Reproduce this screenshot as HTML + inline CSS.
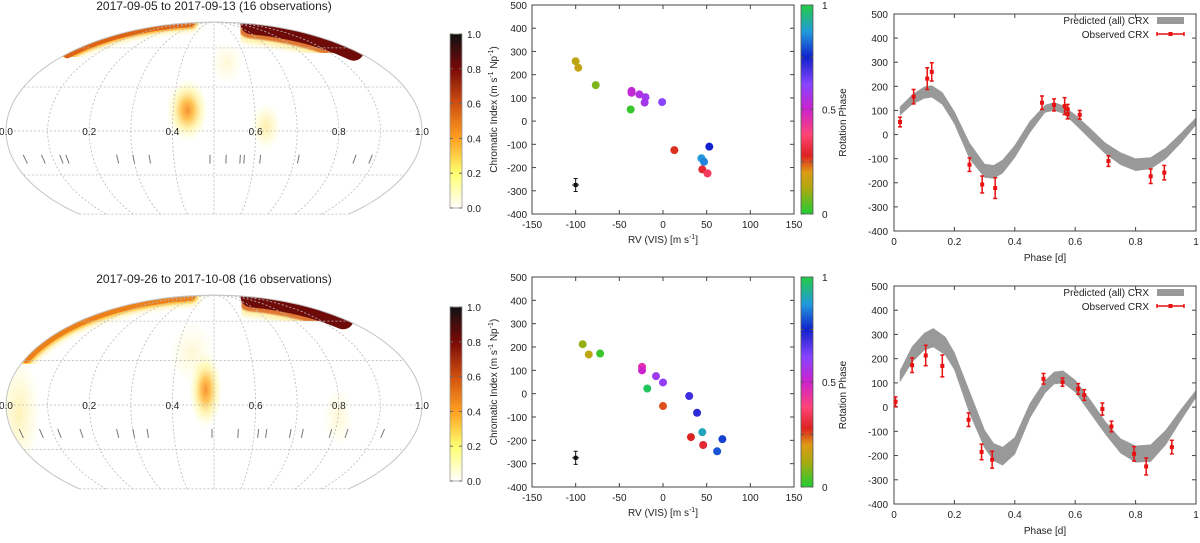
<!DOCTYPE html>
<html><head><meta charset="utf-8"><style>
html,body{margin:0;padding:0;background:#fff;}
svg{display:block;font-family:"Liberation Sans",sans-serif;}
</style></head><body>
<svg id="fig" width="1200" height="543" viewBox="0 0 1200 543" xmlns="http://www.w3.org/2000/svg">
<defs>
<linearGradient id="heatcb" x1="0" y1="1" x2="0" y2="0">
<stop offset="0" stop-color="#ffffff"/><stop offset="0.2" stop-color="#ffff70"/><stop offset="0.4" stop-color="#ffa020"/><stop offset="0.6" stop-color="#d05010"/><stop offset="0.8" stop-color="#780a08"/><stop offset="1" stop-color="#111"/>
</linearGradient>
<linearGradient id="phasecb" x1="0" y1="1" x2="0" y2="0">
<stop offset="0" stop-color="#22cc33"/><stop offset="0.12" stop-color="#aaaa10"/><stop offset="0.2" stop-color="#dd9a15"/><stop offset="0.28" stop-color="#dd2222"/><stop offset="0.38" stop-color="#ff4477"/><stop offset="0.5" stop-color="#cc22cc"/><stop offset="0.62" stop-color="#8844ff"/><stop offset="0.75" stop-color="#1122cc"/><stop offset="0.87" stop-color="#2299dd"/><stop offset="1" stop-color="#22cc44"/>
</linearGradient>
<radialGradient id="blobY"><stop offset="0" stop-color="#ffe060"/><stop offset="0.5" stop-color="#fff090" stop-opacity="0.7"/><stop offset="1" stop-color="#ffffa0" stop-opacity="0"/></radialGradient>
<radialGradient id="blobO"><stop offset="0" stop-color="#f59030"/><stop offset="0.3" stop-color="#ffb838" stop-opacity="0.85"/><stop offset="0.65" stop-color="#fff080" stop-opacity="0.5"/><stop offset="1" stop-color="#ffffa0" stop-opacity="0"/></radialGradient>
<filter id="blur2"><feGaussianBlur stdDeviation="2.5"/></filter>
<filter id="blur1"><feGaussianBlur stdDeviation="0.8"/></filter>
</defs>
</svg>
<script>
// ---------- data ----------
const mapTitles = ["2017-09-05 to 2017-09-13 (16 observations)", "2017-09-26 to 2017-10-08 (16 observations)"];
const obsPhasesTop = [0.03,0.075,0.12,0.135,0.26,0.3,0.34,0.49,0.53,0.565,0.575,0.615,0.71,0.85,0.89];
const obsPhasesBot = [0.02,0.07,0.115,0.17,0.26,0.3,0.335,0.495,0.56,0.61,0.63,0.69,0.72,0.79,0.83,0.92];
// spots: lon, lat, rx(frac lon), ry(deg lat), intensity
const spotsTop = [[0.435,14,0.05,15,0.6],[0.625,3,0.035,11,0.3],[0.54,48,0.05,10,0.15]];
const spotsBot = [[0.48,10,0.04,18,0.55],[0.03,-5,0.05,28,0.25],[0.8,-8,0.035,14,0.15],[0.44,35,0.06,15,0.15]];
// limb bands: edge (0 left, 1 right), latFrom, latTo, width(px), intensity
const bandsTop = [[0,55,88,6,0.55],[1,58,86,14,0.82]];
const bandsBot = [[0,32,88,7,0.48],[1,62,86,14,0.82]];

const rvTop = [-100,-97,-77,-36,-36,-27,-20,-21,-1,-37,13,53,44,47,45,51];
const ciTop = [258,230,155,130,122,115,103,80,82,50,-125,-110,-160,-175,-208,-225];
const phTop = [0.15,0.16,0.08,0.52,0.52,0.55,0.58,0.57,0.62,0.02,0.27,0.75,0.87,0.85,0.3,0.35];
const rvBot = [-92,-85,-72,-24,-24,-8,0,-18,30,39,0,45,32,46,68,62];
const ciBot = [212,168,172,115,100,75,48,22,-10,-82,-53,-165,-186,-220,-195,-247];
const phBot = [0.1,0.15,0.02,0.45,0.5,0.58,0.6,0.98,0.7,0.72,0.25,0.9,0.28,0.3,0.78,0.8];

const crxPhTop = [0.02,0.065,0.11,0.125,0.25,0.292,0.335,0.49,0.53,0.565,0.575,0.575,0.615,0.71,0.85,0.895];
const crxTop   = [52,157,232,260,-125,-207,-222,132,123,118,105,85,82,-110,-173,-158];
const crxErrTop= [20,30,45,38,28,35,43,28,25,35,20,20,18,22,30,30];
const bandXTop = [0.02,0.06,0.1,0.125,0.16,0.2,0.25,0.3,0.33,0.36,0.4,0.45,0.5,0.53,0.56,0.6,0.65,0.7,0.75,0.8,0.85,0.9,0.95,1.0];
const bandHiTop= [115,165,198,203,175,95,-35,-122,-128,-105,-45,55,122,133,120,82,25,-35,-75,-100,-95,-55,5,70];
const bandLoTop= [80,125,150,155,125,45,-100,-178,-182,-160,-95,8,92,100,88,42,-20,-80,-125,-150,-142,-100,-35,40];
const crxPhBot = [0.005,0.06,0.105,0.16,0.247,0.29,0.325,0.495,0.558,0.61,0.63,0.69,0.72,0.795,0.835,0.92];
const crxBot   = [22,173,213,170,-52,-185,-217,117,103,75,50,-8,-80,-193,-245,-165];
const crxErrBot= [20,30,42,45,28,32,35,22,17,22,22,25,22,30,35,28];
const bandXBot = [0.02,0.06,0.1,0.13,0.17,0.2,0.25,0.3,0.33,0.36,0.4,0.45,0.5,0.53,0.56,0.6,0.65,0.7,0.75,0.8,0.85,0.9,0.95,1.0];
const bandHiBot= [150,250,305,325,290,225,65,-95,-150,-165,-125,15,110,145,150,112,30,-60,-130,-160,-155,-95,-10,70];
const bandLoBot= [105,185,235,248,215,155,-25,-168,-222,-240,-195,-45,58,95,100,62,-25,-112,-190,-228,-225,-155,-55,40];

// ---------- helpers ----------
const svg = document.getElementById('fig');
const NS = 'http://www.w3.org/2000/svg';
function mk(tag, attrs, parent){const e=document.createElementNS(NS,tag);for(const k in attrs)e.setAttribute(k,attrs[k]);(parent||svg).appendChild(e);return e;}
function txt(x,y,s,size,anchor,parent,fill){const t=mk('text',{x:x,y:y,'font-size':size,'text-anchor':anchor||'middle',fill:fill||'#222'},parent);t.textContent=s;return t;}
const pstops=[[0,[34,204,51]],[0.12,[170,170,16]],[0.2,[221,154,21]],[0.28,[221,34,34]],[0.38,[255,68,119]],[0.5,[204,34,204]],[0.62,[136,68,255]],[0.75,[17,34,204]],[0.87,[34,153,221]],[1,[34,204,68]]];
const hstops=[[0,[255,255,255]],[0.2,[255,255,112]],[0.4,[255,160,32]],[0.6,[208,80,16]],[0.8,[120,10,8]],[1,[17,17,17]]];
function cmap(st,v){v=Math.max(0,Math.min(1,v));for(let i=1;i<st.length;i++){if(v<=st[i][0]){const a=st[i-1],b=st[i];const f=(v-a[0])/(b[0]-a[0]);const c=a[1].map((x,j)=>Math.round(x+(b[1][j]-x)*f));return `rgb(${c[0]},${c[1]},${c[2]})`;}}return 'rgb(34,204,68)';}

// ---------- Mollweide maps ----------
function drawMap(idx, M, title, spots, bands, obs){
  const g = mk('g',{});
  
  
  function theta(latDeg){const p=latDeg*Math.PI/180;if(Math.abs(latDeg)>=90)return Math.sign(latDeg)*Math.PI/2;let t=p;for(let i=0;i<30;i++){const f=2*t+Math.sin(2*t)-Math.PI*Math.sin(p);t-=f/(2+2*Math.cos(2*t));}return t;}
  function P(lon,lat){const t=theta(lat);return [M.cx+M.a*(lon-0.5)*2*Math.cos(t), M.cy-M.b*Math.sin(t)];}
  let d='';
  for(let lat=-60;lat<=90;lat+=2){const p=P(0,lat);d+=(d?'L':'M')+p[0].toFixed(1)+','+p[1].toFixed(1);}
  for(let lat=90;lat>=-60;lat-=2){const p=P(1,lat);d+='L'+p[0].toFixed(1)+','+p[1].toFixed(1);}
  d+='Z';
  const cid='clip'+idx;
  const cp=mk('clipPath',{id:cid},svg.querySelector('defs'));mk('path',{d:d},cp);
  const heat=mk('g',{'clip-path':`url(#${cid})`},g);
  
  
  spots.forEach(s=>{
    const c=P(s[0],s[1]);const rx=s[2]*2*M.a*Math.cos(theta(s[1]));const ry=M.b*Math.sin(s[3]*Math.PI/180)*1.1;
    const e=mk('ellipse',{cx:c[0],cy:c[1],rx:rx,ry:ry,fill:s[4]>0.35?'url(#blobO)':'url(#blobY)',opacity:Math.min(1,s[4]*1.8)},heat);
    
    
  });
  bands.forEach(b=>{
    let pd='';for(let l=b[1];l<=b[2]+1e-9;l+=1){const p=P(b[0],l);pd+=(pd?'L':'M')+p[0].toFixed(1)+','+p[1].toFixed(1);}
    mk('path',{d:pd,stroke:'#ffe870','stroke-width':b[3]*2.8,fill:'none',opacity:0.6,filter:'url(#blur2)','stroke-linecap':'round'},heat);
    mk('path',{d:pd,stroke:cmap(hstops,b[4]*0.7),'stroke-width':b[3]*2.1,fill:'none',opacity:0.8,filter:'url(#blur1)','stroke-linecap':'round'},heat);
    const e=mk('path',{d:pd,stroke:cmap(hstops,b[4]),'stroke-width':b[3]*1.5,fill:'none','stroke-linecap':'round'},heat);
    
    
  });
  const grid=mk('g',{stroke:'#bbb','stroke-width':0.8,'stroke-dasharray':'2,2',fill:'none'},g);
  
  
  for(let k=1;k<10;k++){let pd='';for(let lat=-60;lat<=90;lat+=3){const p=P(k/10,lat);pd+=(pd?'L':'M')+p[0].toFixed(1)+','+p[1].toFixed(1);}mk('path',{d:pd},grid);}
  [-60,-30,0,30,60].forEach(lat=>{const a=P(0,lat),b=P(1,lat);mk('path',{d:`M${a[0]},${a[1]}L${b[0]},${b[1]}`},grid);});
  const ol=mk('path',{d:d.replace('Z',''),stroke:'#c4c4c4','stroke-width':1,fill:'none'},g);
  
  
  for(let k=0;k<=5;k++){const p=P(k*0.2,0);const t=txt(p[0],p[1]+4,(k*0.2).toFixed(1),10,'middle',g);}
  obs.forEach(ph=>{const a=P(ph,-16),b=P(ph,-22);const l=mk('line',{x1:a[0],y1:a[1],x2:b[0],y2:b[1],stroke:'#777','stroke-width':1},g);});
  const tt=txt(M.cx,M.titleY,title,12,'middle',g);
  
  
  const cb=mk('g',{},g);
  
  
  mk('rect',{x:450,y:M.cbTop,width:12,height:M.cbBot-M.cbTop,fill:'url(#heatcb)',stroke:'#999','stroke-width':0.8},cb);
  for(let k=0;k<=5;k++){const y=M.cbBot-(M.cbBot-M.cbTop)*k/5;mk('line',{x1:450,x2:453,y1:y,y2:y,stroke:'#666'},cb);mk('line',{x1:459,x2:462,y1:y,y2:y,stroke:'#666'},cb);txt(467,y+4,(k*0.2).toFixed(1),10,'start',cb);}
}
drawMap(0,{cx:214,cy:131,a:208,b:109,titleY:10,cbTop:34,cbBot:208},mapTitles[0],spotsTop,bandsTop,obsPhasesTop);
drawMap(1,{cx:214,cy:405,a:208,b:110,titleY:283,cbTop:307,cbBot:481},mapTitles[1],spotsBot,bandsBot,obsPhasesBot);

// ---------- scatter panels ----------
function drawScatter(name, F, rv, ci, ph){
  const g=mk('g',{});
  
  
  const X=v=>F.x0+(v+150)/300*(F.x1-F.x0);
  const Y=v=>F.y1-(v+400)/900*(F.y1-F.y0);
  const ax=mk('g',{stroke:'#444','stroke-width':1,fill:'none'},g);
  
  
  mk('rect',{x:F.x0,y:F.y0,width:F.x1-F.x0,height:F.y1-F.y0},ax);
  for(let v=-150;v<=150;v+=50){const x=X(v);mk('line',{x1:x,x2:x,y1:F.y1,y2:F.y1-4},ax);mk('line',{x1:x,x2:x,y1:F.y0,y2:F.y0+4},ax);const t=txt(x,F.y1+14,String(v),10,'middle',g);}
  for(let v=-400;v<=500;v+=100){const y=Y(v);mk('line',{x1:F.x0,x2:F.x0+4,y1:y,y2:y},ax);mk('line',{x1:F.x1,x2:F.x1-4,y1:y,y2:y},ax);const t=txt(F.x0-5,y+4,String(v),10,'end',g);}
  const xl=mk('text',{x:(F.x0+F.x1)/2,y:F.y1+29,'font-size':10,'text-anchor':'middle',fill:'#222'},g);
  xl.innerHTML='RV (VIS) [m s<tspan dy="-4" font-size="7">-1</tspan><tspan dy="4">]</tspan>';
  
  
  const yl=mk('text',{x:0,y:0,'font-size':10,'text-anchor':'middle',fill:'#222',transform:`translate(${F.x0-35},${(F.y0+F.y1)/2}) rotate(-90)`},g);
  yl.innerHTML='Chromatic Index (m s<tspan dy="-4" font-size="7">-1</tspan><tspan dy="4"> Np</tspan><tspan dy="-4" font-size="7">-1</tspan><tspan dy="4">)</tspan>';
  
  
  const ex=X(-100),ey=Y(-275);
  const eb=mk('g',{stroke:'#111','stroke-width':1},g);
  
  
  mk('line',{x1:ex,x2:ex,y1:Y(-247),y2:Y(-303)},eb);mk('line',{x1:ex-2,x2:ex+2,y1:Y(-247),y2:Y(-247)},eb);mk('line',{x1:ex-2,x2:ex+2,y1:Y(-303),y2:Y(-303)},eb);
  mk('line',{x1:X(-104),x2:X(-96),y1:ey,y2:ey},eb);mk('rect',{x:ex-1.5,y:ey-1.5,width:3,height:3,fill:'#111'},eb);
  rv.forEach((v,i)=>{const c=mk('circle',{cx:X(v),cy:Y(ci[i]),r:4,fill:cmap(pstops,ph[i])},g);});
  const cb=mk('g',{},g);
  
  
  mk('rect',{x:801,y:F.y0,width:12,height:F.y1-F.y0,fill:'url(#phasecb)',stroke:'#555','stroke-width':0.8},cb);
  for(let k=0;k<=4;k++){const y=F.y1-(F.y1-F.y0)*k/4;mk('line',{x1:801,x2:804,y1:y,y2:y,stroke:'#555'},cb);mk('line',{x1:810,x2:813,y1:y,y2:y,stroke:'#555'},cb);}
  [['0',0],['0.5',0.5],['1',1]].forEach(a=>txt(822,F.y1-(F.y1-F.y0)*a[1]+4,a[0],10,'start',cb));
}
drawScatter('scatter-top',{x0:532,x1:794,y0:5,y1:214},rvTop,ciTop,phTop);
drawScatter('scatter-bottom',{x0:532,x1:794,y0:277,y1:487},rvBot,ciBot,phBot);

// ---------- CRX phase panels ----------
function drawCRX(name,F,px,py,pe,bx,bhi,blo){
  const g=mk('g',{});
  
  
  const X=v=>F.x0+v*(F.x1-F.x0);
  const Y=v=>F.y1-(v+400)/900*(F.y1-F.y0);
  const cp=mk('clipPath',{id:'c'+name},svg.querySelector('defs'));mk('rect',{x:F.x0,y:F.y0,width:F.x1-F.x0,height:F.y1-F.y0},cp);
  let d='';bx.forEach((x,i)=>{d+=(i?'L':'M')+X(x).toFixed(1)+','+Y(bhi[i]).toFixed(1);});
  for(let i=bx.length-1;i>=0;i--)d+='L'+X(bx[i]).toFixed(1)+','+Y(blo[i]).toFixed(1);
  const band=mk('path',{d:d+'Z',fill:'#999','stroke':'#999','stroke-width':0.5,'stroke-linejoin':'round','clip-path':`url(#c${name})`},g);
  
  
  const ax=mk('g',{stroke:'#444','stroke-width':1,fill:'none'},g);
  
  
  mk('rect',{x:F.x0,y:F.y0,width:F.x1-F.x0,height:F.y1-F.y0},ax);
  for(let k=0;k<=5;k++){const v=k*0.2;const x=X(v);mk('line',{x1:x,x2:x,y1:F.y1,y2:F.y1-4},ax);mk('line',{x1:x,x2:x,y1:F.y0,y2:F.y0+4},ax);const t=txt(x,F.y1+14,k===0?'0':k===5?'1':v.toFixed(1),10,'middle',g);}
  for(let v=-400;v<=500;v+=100){const y=Y(v);mk('line',{x1:F.x0,x2:F.x0+4,y1:y,y2:y},ax);mk('line',{x1:F.x1,x2:F.x1-4,y1:y,y2:y},ax);const t=txt(F.x0-6,y+4,String(v),10,'end',g);}
  const xl=txt((F.x0+F.x1)/2,F.y1+30,'Phase [d]',10,'middle',g);
  
  
  const yl=txt(0,0,'Rotation Phase',10,'middle',g);yl.setAttribute('transform',`translate(846,${(F.y0+F.y1)/2}) rotate(-90)`);
  
  
  const pts=mk('g',{stroke:'#e81010','stroke-width':1.5,fill:'#e81010'},g);
  
  
  px.forEach((p,i)=>{const x=X(p),y=Y(py[i]),y1=Y(py[i]+pe[i]),y2=Y(py[i]-pe[i]);
    const e=mk('g',{},pts);
    
    
    mk('line',{x1:x,x2:x,y1:y1,y2:y2},e);mk('line',{x1:x-2,x2:x+2,y1:y1,y2:y1},e);mk('line',{x1:x-2,x2:x+2,y1:y2,y2:y2},e);
    mk('rect',{x:x-2,y:y-2,width:4,height:4,stroke:'none'},e);});
  const lg=mk('g',{},g);
  
  
  txt(1149,F.y0+10,'Predicted (all) CRX',10,'end',lg);
  mk('rect',{x:1157,y:F.y0+3,width:27,height:7,fill:'#999'},lg);
  txt(1149,F.y0+24,'Observed CRX',10,'end',lg);
  const ly=F.y0+20;
  mk('line',{x1:1157,x2:1184,y1:ly,y2:ly,stroke:'#e81010','stroke-width':1.5},lg);
  mk('line',{x1:1157,x2:1157,y1:ly-2,y2:ly+2,stroke:'#e81010','stroke-width':1.5},lg);
  mk('line',{x1:1184,x2:1184,y1:ly-2,y2:ly+2,stroke:'#e81010','stroke-width':1.5},lg);
  mk('rect',{x:1168.5,y:ly-2,width:4,height:4,fill:'#e81010'},lg);
}
drawCRX('crx-top',{x0:894,x1:1196,y0:14,y1:231},crxPhTop,crxTop,crxErrTop,bandXTop,bandHiTop,bandLoTop);
drawCRX('crx-bottom',{x0:894,x1:1196,y0:286,y1:504},crxPhBot,crxBot,crxErrBot,bandXBot,bandHiBot,bandLoBot);
</script>
</body></html>
